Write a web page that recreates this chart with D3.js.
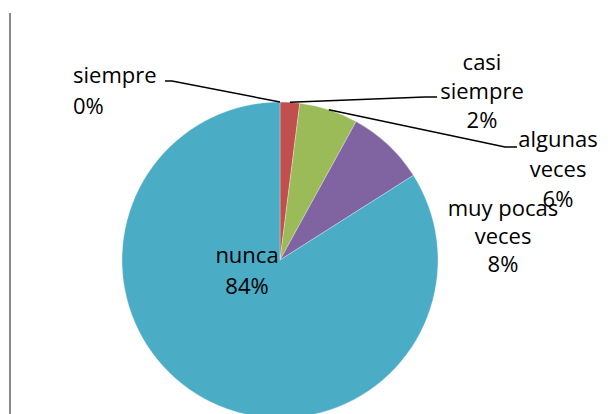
<!DOCTYPE html>
<html>
<head>
<meta charset="utf-8">
<script src="https://cdn.jsdelivr.net/npm/d3@7"></script>
<style>
  body { margin: 0; background: #fff; }
  svg text { font-family: "Open Sans", sans-serif; font-size: 22px; fill: #000; }
</style>
</head>
<body>
<div id="chart"></div>
<script>
// datos del grafico
var categorias = ["siempre", "casi siempre", "algunas veces", "muy pocas veces", "nunca"];
var valores = [0, 2, 6, 8, 84];
var etiquetas = [["siempre", "0%"], ["casi", "siempre", "2%"], ["algunas", "veces", "6%"], ["muy pocas", "veces", "8%"], ["nunca", "84%"]];
var colores = ["#4F81BD", "#C0504D", "#9BBB59", "#8064A2", "#4BACC6"];

var width = 616, height = 414;
var cx = 280, cy = 260, radio = 158;

// donde va cada etiqueta (posicion, alineacion, linea guia)
var posEtiquetas = [
  { x: 73, y: 83, anchor: "start", dy: 31, codo: [172, 81], fin: [165, 81] },
  { x: 482, y: 70, anchor: "middle", dy: 29, codo: [425, 97], fin: [437, 97] },
  { x: 558, y: 147, anchor: "middle", dy: 30, codo: [505, 147], fin: [517, 147] },
  { x: 503, y: 216, anchor: "middle", dy: 28, codo: null },
  { x: 247, y: 263, anchor: "middle", dy: 31, codo: null }
];

var svg = d3.select("#chart").append("svg")
  .attr("width", width)
  .attr("height", height);

// linea gris de la izquierda
svg.append("line")
  .attr("x1", 10).attr("x2", 10)
  .attr("y1", 13).attr("y2", height)
  .attr("stroke", "#888").attr("stroke-width", 2);

var pie = d3.pie().sort(null).value(function (d) { return d; });
var arcos = pie(valores);

var arc = d3.arc().innerRadius(0).outerRadius(radio);
var arcBorde = d3.arc().innerRadius(radio).outerRadius(radio);

var g = svg.append("g").attr("transform", "translate(" + cx + "," + cy + ")");

g.selectAll("path")
  .data(arcos)
  .enter().append("path")
  .attr("d", arc)
  .attr("fill", function (d, i) { return colores[i]; })
  .attr("stroke", "#fff")
  .attr("stroke-width", 0.3);

// lineas guia
arcos.forEach(function (d, i) {
  var p = posEtiquetas[i];
  if (!p.codo) return;
  var c = arcBorde.centroid(d);
  var puntos = [[cx + c[0], cy + c[1]], p.codo, p.fin];
  svg.append("path")
    .attr("d", d3.line()(puntos))
    .attr("fill", "none")
    .attr("stroke", "#000")
    .attr("stroke-width", 1.5);
});

// etiquetas
etiquetas.forEach(function (lineas, i) {
  var p = posEtiquetas[i];
  var t = svg.append("text")
    .attr("text-anchor", p.anchor);
  lineas.forEach(function (l, j) {
    t.append("tspan")
      .attr("x", p.x)
      .attr("y", p.y + j * p.dy)
      .text(l);
  });
});
</script>
</body>
</html>
